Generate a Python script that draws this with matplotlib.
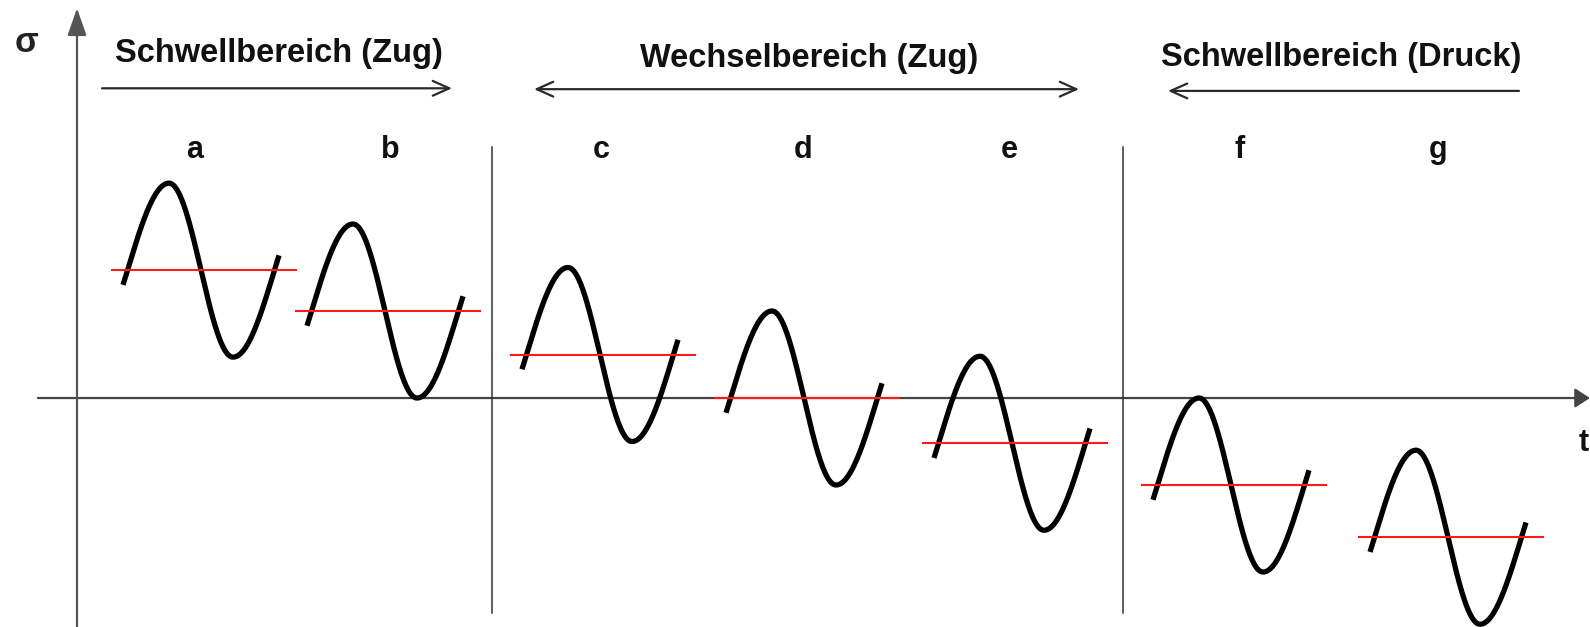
import numpy as np
import matplotlib
matplotlib.use("Agg")
import matplotlib.pyplot as plt
from matplotlib.patches import FancyArrowPatch

plt.rcParams['font.family'] = ['Liberation Sans', 'DejaVu Sans']

# ---- data ----
labels = ['a', 'b', 'c', 'd', 'e', 'f', 'g']
t_center = [1.27, 3.11, 5.26, 7.30, 9.38, 11.57, 13.74]      # centre of each load cycle (time units)
sigma_m = [1.47, 1.00, 0.50, 0.00, -0.52, -1.00, -1.60]       # mean stress
sigma_a = [1.00, 1.00, 1.00, 1.00, 1.00, 1.00, 1.00]          # stress amplitude
label_t = [1.18, 3.13, 5.24, 7.26, 9.32, 11.63, 13.61]

region_names = ['Schwellbereich (Zug)', 'Wechselbereich (Zug)', 'Schwellbereich (Druck)']
region_text_t = [2.02, 7.32, 12.64]
region_text_s = [3.86, 3.80, 3.82]
region_arrow_from = [0.25, 4.57, 14.42]
region_arrow_to = [3.75, 10.02, 10.91]
region_arrow_s = [3.56, 3.55, 3.53]
region_arrow_style = ['->', '<->', '->']
divider_t = [4.15, 10.46]

# ---- figure ----
fig = plt.figure(figsize=(15.9, 6.27), dpi=100)
ax = fig.add_axes([0, 0, 1, 1])
ax.set_xlim(-0.77, 15.13)
ax.set_ylim(-2.632, 4.575)
ax.axis('off')

# x-axis (t)
ax.add_patch(FancyArrowPatch((-0.39, 0), (15.13, 0), arrowstyle='-|>,head_length=0.65,head_width=0.42',
                             mutation_scale=14, color='#444444', lw=1.6, shrinkA=0, shrinkB=0, zorder=2))
# y-axis (sigma)
ax.add_patch(FancyArrowPatch((0, -2.7), (0, 4.48), arrowstyle='-|>,head_length=1.2,head_width=0.42',
                             mutation_scale=14, color='#555555', lw=1.6, shrinkA=0, shrinkB=0, zorder=2))
ax.text(-0.50, 3.98, 'σ', fontsize=25, fontweight='bold', ha='center', va='baseline', color='#222222')
ax.text(15.02, -0.52, 't', fontsize=22, fontweight='bold', ha='left', va='center', color='#111111')

# dividers
for d in divider_t:
    ax.plot([d, d], [-2.47, 2.885], color='#333333', lw=1.1, zorder=2)

# region headings with arrows
for name, tx, ts, a0, a1, s, st in zip(region_names, region_text_t, region_text_s, region_arrow_from,
                                       region_arrow_to, region_arrow_s, region_arrow_style):
    ax.text(tx, ts, name, fontsize=23.5, fontweight='bold', ha='center', va='baseline', color='#111111')
    ax.add_patch(FancyArrowPatch((a0, s), (a1, s), arrowstyle=st + ',head_length=0.85,head_width=0.38',
                                 mutation_scale=14, color='#2a2a2a', lw=1.6, shrinkA=0, shrinkB=0))

# load cycles (schematic: falling flank steeper than rising flank, as drawn in the original)
half_w = 0.78      # half width of drawn cycle
fall_half = 0.32   # peak -> mean crossing distance
rise_q = 0.415     # trough -> mean crossing distance
ext = (half_w - fall_half) / rise_q * (np.pi / 2)
x_rel = np.linspace(-half_w, half_w, 500)
phase = np.interp(x_rel, [-half_w, -fall_half, fall_half, half_w],
                  [np.pi / 2 - ext, np.pi / 2, 3 * np.pi / 2, 3 * np.pi / 2 + ext])
for lab, tc, m, a, lt in zip(labels, t_center, sigma_m, sigma_a, label_t):
    ax.plot(tc - 0.03 + x_rel, m + a * np.sin(phase), color='black', lw=3.8,
            solid_capstyle='butt', solid_joinstyle='round', zorder=3)
    ax.plot([tc - 0.92, tc + 0.92], [m, m], color='#ff1a1a', lw=1.5, zorder=4)
    ax.text(lt, 2.76, lab, fontsize=22, fontweight='bold', ha='center', va='baseline', color='#111111')

fig.savefig('out.png', dpi=100, facecolor='white')
